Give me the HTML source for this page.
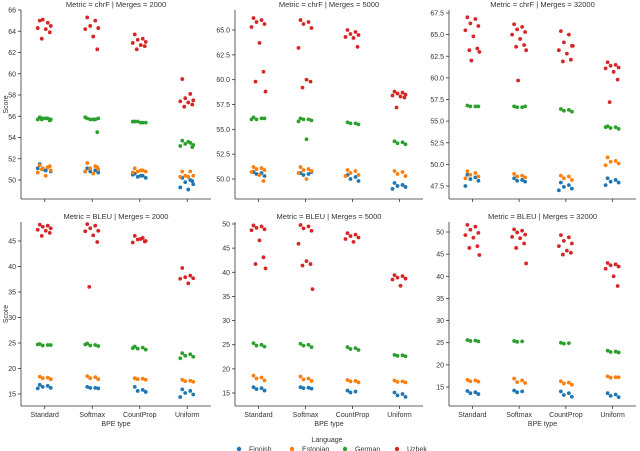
<!DOCTYPE html>
<html><head><meta charset="utf-8">
<style>
html,body{margin:0;padding:0;background:#fff;}
svg{display:block;font-family:"Liberation Sans",sans-serif;}
</style></head>
<body>
<svg id="chart" width="640" height="451"></svg>
<script>
const categories = ["Standard","Softmax","CountProp","Uniform"];
const languages = ["Finnish","Estonian","German","Uzbek"];
const colors = ["#1f77b4","#ff7f0e","#2ca02c","#d62728"];
const panelTitles = ["Metric = chrF | Merges = 2000","Metric = chrF | Merges = 5000","Metric = chrF | Merges = 32000","Metric = BLEU | Merges = 2000","Metric = BLEU | Merges = 5000","Metric = BLEU | Merges = 32000"];
const ticks0 = [50,52,54,56,58,60,62,64,66];
const ticks1 = [50.0,52.5,55.0,57.5,60.0,62.5,65.0];
const ticks2 = [47.5,50.0,52.5,55.0,57.5,60.0,62.5,65.0,67.5];
const ticks3 = [15,20,25,30,35,40,45];
const ticks4 = [15,20,25,30,35,40,45,50];
const ticks5 = [15,20,25,30,35,40,45,50];

// chrF 2000: [Finnish, Estonian, German, Uzbek] per category
const p0Finnish = [[51.5,51.2,51,50.8,51.1,50.9],[51.1,50.9,50.8,50.7,50.8],[50.6,50.4,50.3,50.2,50.5,50.4],[50.2,50,49.8,49.6,49.3,49.1,49.9]];
const p0Estonian = [[51.4,51.2,51.1,50.9,50.7,50.4,51.3,51],[51.6,51.3,51.1,51,50.8,50.6,51.2],[51.1,50.9,50.8,50.8,50.7,50.9],[50.8,50.8,50.4,50.4,50.3,50.3]];
const p0German = [[55.9,55.8,55.8,55.7,55.7,55.8,55.6,55.7],[55.8,55.7,55.7,55.8,55.9,55.7,54.5],[55.5,55.4,55.5,55.4,55.5,55.4],[53.7,53.5,53.4,53.3,53.2,53.6,53.1]];
const p0Uzbek = [[65,64.8,65.1,64.5,64.3,64.2,63.9,63.3],[65.3,65,64.5,64.3,64.2,63.5,62.3],[63.7,63.3,63.2,63,62.9,62.7,62.6,62.3],[59.5,58.1,57.7,57.5,57.4,57.3,57.1,56.9]];
// chrF 5000
const p1Finnish = [[50.7,50.6,50.5,50.3],[50.6,50.5,50.4,50.7],[50.4,50.2,50,49.8],[49.6,49.4,49.3,49.2,49]];
const p1Estonian = [[51.2,51.1,51,50.9,50.7,50.4,49.8],[51.2,51,50.9,50.8,50.6,50],[50.9,50.8,50.6,50.4,50.3],[50.8,50.7,50.5,50.3]];
const p1German = [[56.2,56.1,56,56.1,56],[56.1,56,56,55.9,55.8,54],[55.7,55.6,55.6,55.5],[53.8,53.7,53.6,53.5]];
const p1Uzbek = [[66.2,66,65.8,65.6,65.3,63.7,60.8,59.8,58.8],[66,65.8,65.6,65.2,63.2,60,59.8,59.2],[65,64.8,64.6,64.5,64.3,64.2,63.3],[58.8,58.7,58.6,58.5,58.4,58.3,58.2,57.2]];
// chrF 32000
const p2Finnish = [[48.8,48.5,48.3,48.1,47.5],[48.4,48.2,48.1,48],[47.9,47.6,47.4,47.2,47],[48.4,48.2,48,47.9,47.6]];
const p2Estonian = [[49.2,49,48.8,48.6,48.4],[48.9,48.7,48.6,48.5],[48.7,48.6,48.4,48.2],[50.8,50.4,50.3,50.1,49.9]];
const p2German = [[56.8,56.7,56.7,56.7],[56.7,56.6,56.6,56.7],[56.4,56.3,56.2,56.1],[54.4,54.3,54.2,54.1,54.3]];
const p2Uzbek = [[67,66.8,66.3,66,65.5,64.8,63.4,63.2,63,62],[66.2,65.9,65.6,65.3,65,64.5,63.8,63.6,63.2,59.7],[65.4,65,64.1,63.7,63.2,62.8,62.1,61.9,63.7],[61.8,61.5,61.4,61.2,61.1,60.7,59.8,57.2]];
// BLEU 2000
const p3Finnish = [[16.8,16.6,16.4,16.2,16.1],[16.4,16.2,16.2,16.1],[16.4,15.8,15.6,15.4],[15.9,15.6,15.2,14.9,14.4]];
const p3Estonian = [[18.4,18.2,18.1,17.9],[18.5,18.3,18.1,17.9],[18.1,18,17.9,17.8],[17.8,17.6,17.5,17.4]];
const p3German = [[24.8,24.6,24.5,24.6,24.7],[24.9,24.6,24.5,24.4,24.7],[24.3,24.1,23.9,23.7,24],[23,22.8,22.5,22.3,22]];
const p3Uzbek = [[48.2,48,47.8,47.5,47.2,47,46.6,46],[48.3,48,47.5,47,46.9,46.1,44.8,36],[46,45.6,45.3,45,44.7,45.4,44.9],[39.7,38.2,37.9,37.7,37.6,36.7]];
// BLEU 5000
const p4Finnish = [[16.2,16,15.8,15.5],[16.2,16.1,16,15.9],[15.5,15.3,15.1],[15.1,14.8,14.5,14.2]];
const p4Estonian = [[18.6,18.2,18,17.6],[18.4,18,17.8,17.5],[17.7,17.5,17.4,17.2],[17.6,17.4,17.3,17.2]];
const p4German = [[25.3,25,24.8,24.6],[25.2,25,24.8,24.5],[24.5,24.3,24.1,23.9],[22.9,22.8,22.7,22.6]];
const p4Uzbek = [[49.7,49.5,49.2,48.9,48.7,46.6,43.1,41.7,40.8],[49.8,49.5,49.1,48.6,45.9,42.3,41.7,41.4,36.5],[48.1,47.8,47.5,47.2,46.9,46.3],[39.4,39.2,38.9,38.7,38.5,37.2]];
// BLEU 32000
const p5Finnish = [[14.1,13.8,13.6,13.4],[14.2,14,13.8],[14,13.6,13.2,12.8],[13.6,13.3,13,12.7]];
const p5Estonian = [[16.6,16.5,16.3,16.2],[16.9,16.5,16.1,15.9],[16.3,16,15.8,15.5],[17.4,17.2,17.1,17.2]];
const p5German = [[25.6,25.5,25.4,25.3],[25.4,25.3,25.2],[25,24.9,24.8],[23.2,23,22.9,22.8]];
const p5Uzbek = [[51.6,51.2,50.5,49.8,49.3,48.7,46.8,46.4,44.8],[50.6,50.3,49.9,49.4,48.9,48.6,47.4,46.4,42.9],[49.3,48.8,48,47.4,46.8,45.8,45.3,44.9],[43,42.7,42.5,42.2,41.7,40,37.8]];

const panelData = [
 [p0Finnish,p0Estonian,p0German,p0Uzbek],[p1Finnish,p1Estonian,p1German,p1Uzbek],[p2Finnish,p2Estonian,p2German,p2Uzbek],
 [p3Finnish,p3Estonian,p3German,p3Uzbek],[p4Finnish,p4Estonian,p4German,p4Uzbek],[p5Finnish,p5Estonian,p5German,p5Uzbek]];
const panelTicks = [ticks0,ticks1,ticks2,ticks3,ticks4,ticks5];
const tickDigits = [0,1,1,0,0,0];
// layout: axes geometry and y-domain calibration
const layout = [
 {l:21,r:211,t:10,b:199,v0:66,y0:10,v1:50,y1:180},
 {l:235,r:423,t:10,b:199,v0:65,y0:30,v1:50,y1:179},
 {l:449,r:636,t:10,b:199,v0:67.5,y0:13,v1:47.5,y1:186},
 {l:21,r:211,t:222,b:406,v0:45,y0:241,v1:15,y1:394},
 {l:235,r:423,t:222,b:406,v0:50,y0:224,v1:15,y1:393},
 {l:449,r:636,t:222,b:406,v0:50,y0:232,v1:15,y1:387}];
const jit = [-5,3,-2,6,-7,1,5,-3,7,-1];

const NS="http://www.w3.org/2000/svg";
const svg=document.getElementById('chart');
function mk(tag,attrs,parent,txt){const e=document.createElementNS(NS,tag);for(const k in attrs)e.setAttribute(k,attrs[k]);if(txt!==undefined)e.textContent=txt;(parent||svg).appendChild(e);return e;}

layout.forEach((L,pi)=>{
  const g=mk('g',{});
  
  
  const yS=v=>L.y0+(v-L.v0)*(L.y1-L.y0)/(L.v1-L.v0);
  const step=(L.r-L.l)/4;
  const xS=i=>L.l+step*(i+0.5);
  const title=mk('text',{x:(L.l+L.r)/2,y:L.t-3,'text-anchor':'middle','font-size':'7.5','fill':'#333'},g,panelTitles[pi]);
  
  
  const ya=mk('line',{x1:L.l,x2:L.l,y1:L.t,y2:L.b,stroke:'#333','stroke-width':'0.8'},g);
  
  
  const xa=mk('line',{x1:L.l,x2:L.r,y1:L.b,y2:L.b,stroke:'#333','stroke-width':'0.8'},g);
  
  
  panelTicks[pi].forEach(t=>{
    const y=yS(t);
    mk('line',{x1:L.l-3,x2:L.l,y1:y,y2:y,stroke:'#333','stroke-width':'0.8'},g);
    const tl=mk('text',{x:L.l-5,y:y+2.5,'text-anchor':'end','font-size':'7','fill':'#333'},g,t.toFixed(tickDigits[pi]));
    
    
  });
  categories.forEach((c,ci)=>{
    const x=xS(ci);
    mk('line',{x1:x,x2:x,y1:L.b,y2:L.b+3,stroke:'#333','stroke-width':'0.8'},g);
    if(pi>=3){
      const cl=mk('text',{x:x,y:L.b+11,'text-anchor':'middle','font-size':'7','fill':'#333'},g,c);
      
      
    }
  });
  if(pi>=3){
    const xt=mk('text',{x:(L.l+L.r)/2,y:L.b+20,'text-anchor':'middle','font-size':'7','fill':'#333'},g,'BPE type');
    
    
  }
  if(pi%3===0){
    const cy=(L.t+L.b)/2;
    const yt=mk('text',{x:8,y:cy,'text-anchor':'middle','font-size':'7','fill':'#333',transform:'rotate(-90 8 '+cy+')'},g,'Score');
    
    
  }
  panelData[pi].forEach((series,li)=>{
    series.forEach((vals,ci)=>{
      vals.forEach((v,k)=>{
        const p=mk('circle',{cx:xS(ci)+jit[k%jit.length],cy:yS(v),r:1.9,fill:colors[li]},g);
        
        
      });
    });
  });
});

// legend
const lg=mk('g',{});


const lt=mk('text',{x:327,y:442,'text-anchor':'middle','font-size':'7','fill':'#333'},lg,'Language');


const legX=[239,292,345,397];
languages.forEach((n,i)=>{
  const e=mk('g',{},lg);
  
  
  mk('circle',{cx:legX[i],cy:449,r:2.2,fill:colors[i]},e);
  mk('text',{x:legX[i]+10,y:451.5,'font-size':'7','fill':'#333'},e,n);
});
</script>
</body></html>
